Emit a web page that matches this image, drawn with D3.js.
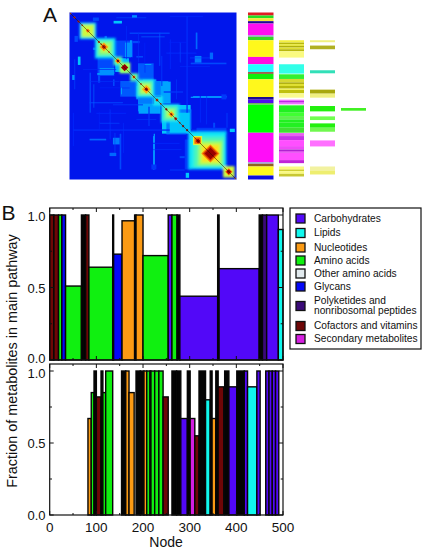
<!DOCTYPE html>
<html><head><meta charset="utf-8">
<script src="https://cdn.jsdelivr.net/npm/d3@7/dist/d3.min.js"></script>
<style>html,body{margin:0;padding:0;background:#fff}svg{display:block}text{font-family:"Liberation Sans",Arial,sans-serif;fill:#111}</style>
</head><body><div id="c"></div>
<script>
// ---- data ----
const catNames = ["Carbohydrates","Lipids","Nucleotides","Amino acids","Other amino acids","Glycans","Polyketides and|nonribosomal peptides","Cofactors and vitamins","Secondary metabolites"];
const catColors = ["#5208f8","#10f8ee","#fb9a14","#10f010","#e2eaee","#0408f8","#3a0a78","#6e0606","#d41fe0","#040404"];
const carb=0,lip=1,nuc=2,ami=3,oth=4,gly=5,pol=6,cof=7,sec=8,blk=9;
// [start node, end node, fraction, category]
const topBars = [[0,9,1,cof],[9,19,1,cof],[19,26,1,ami],[26,34,1,gly],[34,68,.51,ami],[68,77,1,blk],[77,84,1,cof],[84,135,.64,ami],[135,137,1,blk],[137,155,.73,gly],[155,182,.96,nuc],[182,185,1,blk],[185,200,1,nuc],[200,254,.72,ami],[254,262,1,carb],[262,273,1,ami],[273,279,1,blk],[279,360,.44,carb],[360,363,1,blk],[363,449,.63,carb],[449,456,1,blk],[456,465,1,pol],[465,490,1,carb],[490,500,.9,lip]];
const bottomBars = [[82,89,.67,nuc],[89,95,.85,ami],[95,100,1,blk],[100,110,.82,cof],[110,114,1,blk],[114,120,.85,ami],[120,135,1,ami],[154,163,1,blk],[163,170,1,nuc],[170,181,.85,nuc],[185,194,1,blk],[194,202,1,blk],[202,208,1,nuc],[208,215,1,ami],[215,217,1,blk],[217,225,1,ami],[225,234,1,ami],[234,243,1,ami],[243,254,.82,cof],[262,272,1,blk],[272,281,1,blk],[281,295,.67,carb],[295,301,1,blk],[301,311,.67,sec],[311,320,.55,cof],[320,334,1,blk],[334,344,.8,lip],[344,348,1,blk],[348,356,.67,nuc],[356,361,1,blk],[361,373,.89,cof],[375,384,1,blk],[384,401,.89,carb],[401,417,1,blk],[417,424,1,carb],[424,444,.89,lip],[444,451,1,carb],[463,470,1,carb],[470,477,1,carb],[477,484,1,carb],[484,491,1,carb]];
const xTickLabels=[0,100,200,300,400,500];
const xMinor=[50,150,250,350,450];
const yTickLabels=[0,.5,1];
const yMinor=[.25,.75];
// column strips: [start node, end node, colour]
const strip1=[[0,9,"#e01a20"],[9,17,"#20e020"],[17,26,"#f4e83a"],[26,33,"#1a0a90"],[33,68,"#ff10f0"],[68,73,"#a0a0c8"],[73,83,"#30d820"],[83,133,"#fff81a"],[133,155,"#ff10e0"],[155,178,"#20ffff"],[178,184,"#a06050"],[184,200,"#10f010"],[200,253,"#fff81a"],[253,261,"#1a0a90"],[261,271,"#5010f0"],[271,276,"#70b060"],[276,360,"#00ff00"],[360,448,"#ff10f8"],[448,453,"#a0a0d8"],[453,461,"#906020"],[461,488,"#fff81a"],[488,500,"#1010e0"]];
const strip2=[[83,90,"#f4f040"],[90,95,"#b8b810"],[95,100,"#e8e830"],[100,105,"#b0b010"],[105,110,"#e0e030"],[110,116,"#b8b810"],[116,135,"#fafa80"],[155,183,"#30ffe8"],[185,199,"#30f030"],[199,209,"#d8d830"],[209,214,"#b0b010"],[214,220,"#e0e030"],[220,228,"#b8b810"],[228,232,"#f0f060"],[232,242,"#c0c010"],[242,255,"#fbfb90"],[261,265,"#f070ff"],[265,270,"#c020e8"],[270,275,"#f070ff"],[278,300,"#20f020"],[300,310,"#40ff30"],[310,320,"#60f050"],[320,330,"#20f020"],[330,345,"#20f020"],[345,360,"#40e030"],[361,370,"#e860f0"],[370,382,"#c830e8"],[382,400,"#ff50ff"],[400,410,"#f048f8"],[410,415,"#b020d0"],[415,420,"#d840e8"],[420,442,"#ff50ff"],[442,451,"#c020d8"],[461,470,"#fafa80"],[470,475,"#d0d030"],[475,483,"#fafa80"],[483,491,"#c8c830"]];
const strip3=[[83,89,"#f0f080"],[99,110,"#b0b020"],[173,182,"#30e0b8"],[231,243,"#a8a810"],[243,255,"#f0f080"],[280,296,"#20f010"],[311,322,"#70ff50"],[332,345,"#20f010"],[345,357,"#70f850"],[383,401,"#ff70ff"],[461,473,"#f2f2a0"],[473,485,"#eeee70"]];
const strip4=[[286,294,"#40f020"]];
// heat map: broad patches [x0,x1,y0,y1,level]; mirrored about the diagonal
const patches=[[132,157,25,33,.3],[187,202,8,16,.24],[70,88,15,25,.16],[105,112,70,78,.2],[134,190,84,134,.16],[182,186,83,133,.28],[166,184,90,134,.24],[137,180,153,178,.28],[205,252,152,205,.18],[205,250,205,250,.32],[250,296,205,250,.22],[207,272,273,303,.26],[277,362,277,362,.3],[320,362,290,335,.3],[290,300,300,365,.22],[360,365,300,350,.22],[363,470,150,155,.16],[363,463,252,256,.24],[375,395,130,150,.22],[85,92,190,210,.16],[130,135,200,220,.16],[250,255,370,470,.24],[345,365,380,470,.14],[455,470,245,260,.14],[378,383,60,110,.2],[420,430,120,140,.2],[480,495,348,358,.3],[268,272,60,160,.14],[350,354,10,300,.13],[60,64,180,300,.16],[200,206,220,260,.24],[430,436,330,345,.16],[72,74,215,285,.2],[120,123,290,380,.13],[135,137,360,420,.16],[170,172,40,140,.12],[205,207,60,150,.13],[225,227,90,180,.12],[300,303,80,170,.12],[330,333,90,150,.14],[275,278,130,220,.14],[15,17,140,230,.16],[320,322,200,260,.14],[390,393,250,330,.12],[410,412,250,335,.14],[470,473,300,345,.14],[88,90,300,350,.12],[160,162,330,420,.13],[10,13,300,400,.12],[155,157,225,245,.3],[236,240,282,340,.14]];
// soft nested blocks on the diagonal [from,to,level]
const blocks=[[30,80,.3],[35,75,.48],[39,71,.56],[76,138,.3],[81,133,.38],[86,128,.46],[94,120,.54],[132,158,.42],[150,182,.5],[182,206,.42],[200,254,.34],[206,248,.44],[214,242,.54],[250,279,.34],[274,330,.32],[281,323,.42],[290,314,.52],[355,470,.3],[361,465,.35],[372,462,.41],[384,458,.48],[392,452,.56],[398,446,.64],[460,494,.56]];
// crisp boxes and diamonds laid over them
const boxes=[[370,397,.58],[374,393,.8]];
// peaks along the diagonal [centre node, half size, level]
const peaks=[[3,3,.78],[15,4,.9],[27,4,.93],[38,3,.9],[55,6,.8],[88,4,.92],[95,3,.9],[103,13,.72],[103,7,.95],[118,3,.8],[145,9,.7],[145,5,1],[165,11,1],[193,6,.72],[193,3,1],[214,3,.9],[230,13,.7],[230,6,1],[262,5,.92],[273,3,.9],[290,4,1],[305,9,.7],[305,4,.95],[318,5,.95],[330,3,.9],[340,4,1],[352,4,1],[385,7,1],[422,27,.76],[422,22,.9],[422,17,1],[477,11,.8],[477,7,1],[497,3,.75]];

// ---- layout ----
const W=424,H=554;
const svg=d3.select("#c").append("svg").attr("width",W).attr("height",H);
const defs=svg.append("defs");
[["b0",1.3],["b1",.75],["b2",.45]].forEach(([id,s])=>defs.append("filter").attr("id",id).attr("x","-10%").attr("y","-10%").attr("width","120%").attr("height","120%").append("feGaussianBlur").attr("stdDeviation",s));
defs.append("clipPath").attr("id","hm").append("rect").attr("x",69.5).attr("y",12.5).attr("width",167).attr("height",167);

const hx=d3.scaleLinear().domain([0,500]).range([69.5,236.5]);
const hy=d3.scaleLinear().domain([0,500]).range([12.5,179.5]);
const jet=d3.scaleLinear().domain([0,.12,.2,.28,.36,.5,.62,.8,1])
  .range(["#0614ec","#0028fa","#0068ff","#00b8ff","#18f0f0","#a0ff60","#fff020","#ff6000","#980000"]);

// Panel A heat map
const hm=svg.append("g").attr("clip-path","url(#hm)");
const hb=hm.append("g").attr("filter","url(#b1)");
hb.append("rect").attr("x",hx(-10)).attr("y",hy(-10)).attr("width",hx(510)-hx(-10)).attr("height",hy(510)-hy(-10)).attr("fill",jet(0));
const mirrored=patches.flatMap(p=>[p,[p[2],p[3],p[0],p[1],p[4]]]);
hb.selectAll("rect.p").data(mirrored).join("rect").attr("class","p")
  .attr("x",d=>hx(d[0])).attr("y",d=>hy(d[2])).attr("width",d=>hx(d[1])-hx(d[0])).attr("height",d=>hy(d[3])-hy(d[2]))
  .attr("fill",d=>jet(d[4]));
const square=(sel,data,cls)=>sel.selectAll("rect."+cls).data(data).join("rect").attr("class",cls)
  .attr("x",d=>hx(d[0])).attr("y",d=>hy(d[0])).attr("width",d=>hx(d[1])-hx(d[0])).attr("height",d=>hy(d[1])-hy(d[0]))
  .attr("fill",d=>jet(d[2]));
square(hm.append("g").attr("filter","url(#b0)"),blocks,"b");
const hc=hm.append("g").attr("filter","url(#b1)");
square(hc,boxes,"x");
hc.selectAll("path.k").data(peaks).join("path").attr("class","k")
  .attr("d",d=>{const c=d[0],r=d[1];return d3.line()([[hx(c-r),hy(c)],[hx(c),hy(c-r)],[hx(c+r),hy(c)],[hx(c),hy(c+r)]])+"Z";})
  .attr("fill",d=>jet(d[2]));
hm.append("path").attr("d",d3.line()([[hx(0),hy(0)],[hx(500),hy(500)]])).attr("stroke","#301000").attr("stroke-width",.7).attr("stroke-opacity",.75);

// Panel A strips
const stripCols=[[strip1,248,273.5],[strip2,279,304],[strip3,310,335],[strip4,341,366]];
const sg=svg.append("g").attr("filter","url(#b2)");
stripCols.forEach(([s,a,b])=>{
  sg.append("g").selectAll("rect").data(s).join("rect")
    .attr("x",a).attr("width",b-a).attr("y",d=>hy(d[0])).attr("height",d=>hy(d[1])-hy(d[0])).attr("fill",d=>d[2]);
});

// Panel B
const x=d3.scaleLinear().domain([0,500]).range([49.7,283]);
const panels=[{data:topBars,y:d3.scaleLinear().domain([0,1]).range([360,215]),top:208,bottom:360,labels:false,dy:[3,5,6]},
              {data:bottomBars,y:d3.scaleLinear().domain([0,1]).range([515,371]),top:364,bottom:515,labels:true,dy:[5,5,6.7]}];
const fmt=d3.format(".1f");
panels.forEach(p=>{
  const g=svg.append("g");
  g.selectAll("rect").data(p.data).join("rect")
    .attr("x",d=>x(d[0])).attr("width",d=>x(d[1])-x(d[0]))
    .attr("y",d=>p.y(d[2])).attr("height",d=>p.y(0)-p.y(d[2]))
    .attr("fill",d=>catColors[d[3]]).attr("stroke","#060606").attr("stroke-width",1.4);
  g.append("rect").attr("x",49.7).attr("y",p.top).attr("width",233.3).attr("height",p.bottom-p.top)
    .attr("fill","none").attr("stroke","#111").attr("stroke-width",1.2);
  const tk=g.append("g").attr("stroke","#111").attr("stroke-width",1);
  xTickLabels.forEach(v=>{tk.append("line").attr("x1",x(v)).attr("x2",x(v)).attr("y1",p.bottom).attr("y2",p.bottom-4);
    tk.append("line").attr("x1",x(v)).attr("x2",x(v)).attr("y1",p.top).attr("y2",p.top+4);});
  xMinor.forEach(v=>{tk.append("line").attr("x1",x(v)).attr("x2",x(v)).attr("y1",p.bottom).attr("y2",p.bottom-2);
    tk.append("line").attr("x1",x(v)).attr("x2",x(v)).attr("y1",p.top).attr("y2",p.top+2);});
  yTickLabels.forEach((v,i)=>{tk.append("line").attr("x1",49.7).attr("x2",53.7).attr("y1",p.y(v)).attr("y2",p.y(v));
    tk.append("line").attr("x1",283).attr("x2",279).attr("y1",p.y(v)).attr("y2",p.y(v));
    g.append("text").attr("x",45.5).attr("y",p.y(v)+p.dy[i]).attr("text-anchor","end").attr("font-size",13).text(fmt(v));});
  yMinor.forEach(v=>{tk.append("line").attr("x1",49.7).attr("x2",52).attr("y1",p.y(v)).attr("y2",p.y(v));
    tk.append("line").attr("x1",283).attr("x2",280.7).attr("y1",p.y(v)).attr("y2",p.y(v));});
  if(p.labels) xTickLabels.forEach(v=>g.append("text").attr("x",x(v)).attr("y",532).attr("text-anchor","middle").attr("font-size",13.5).text(v));
});
svg.append("text").attr("x",166).attr("y",547).attr("text-anchor","middle").attr("font-size",14).text("Node");
svg.append("text").attr("transform","translate(17,361) rotate(-90)").attr("text-anchor","middle").attr("font-size",14.4).text("Fraction of metabolites in main pathway");
svg.append("text").attr("x",43).attr("y",22).attr("font-size",21).text("A");
svg.append("text").attr("x",1.5).attr("y",220).attr("font-size",21).text("B");

// Legend
const lg=svg.append("g");
lg.append("rect").attr("x",290).attr("y",208).attr("width",131).attr("height",141).attr("fill","#fff").attr("stroke","#111").attr("stroke-width",1.2);
const legY=[218.5,233,247.5,260.5,273.5,286.5,306,326,339];
catNames.forEach((n,i)=>{
  lg.append("rect").attr("x",296).attr("y",legY[i]-4.5).attr("width",9).attr("height",9).attr("fill",catColors[i]).attr("stroke","#111").attr("stroke-width",1.3);
  const parts=n.split("|");
  parts.forEach((t,j)=>lg.append("text").attr("x",314).attr("y",legY[i]+3-(parts.length-1)*5+j*10).attr("font-size",10.2).text(t));
});
</script></body></html>
